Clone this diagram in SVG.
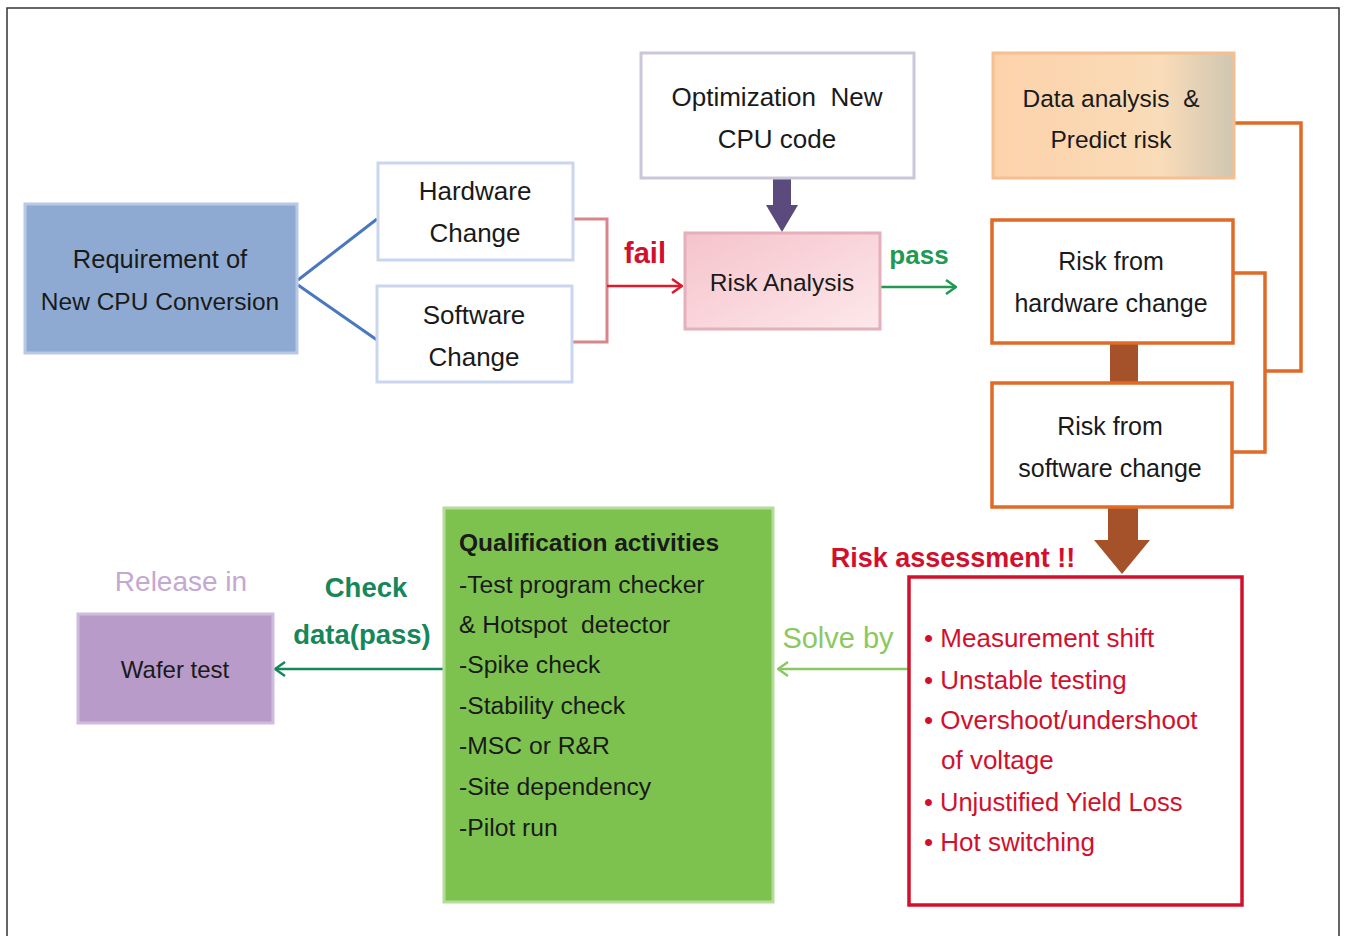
<svg xmlns="http://www.w3.org/2000/svg" width="1346" height="936" viewBox="0 0 1346 936" font-size="24">
<defs>
<linearGradient id="gPink" x1="0" y1="0" x2="1" y2="1"><stop offset="0" stop-color="#f5c3cc"/><stop offset="1" stop-color="#fde8ea"/></linearGradient>
<linearGradient id="gPeach" x1="0" y1="0" x2="1" y2="0"><stop offset="0" stop-color="#fdd2aa"/><stop offset="0.7" stop-color="#f9dcb8"/><stop offset="1" stop-color="#cfc6b2"/></linearGradient>
<marker id="open" viewBox="0 0 12 16" refX="11" refY="8" markerWidth="12" markerHeight="16" markerUnits="userSpaceOnUse" orient="auto"><path d="M1,1 L11,8 L1,15" fill="none" stroke="context-stroke" stroke-width="2.5"/></marker>
</defs>
<style>
text{font-family:"Liberation Sans",Arial,sans-serif;fill:#1a1a1a;white-space:pre}
.c{text-anchor:middle}
.b{font-weight:bold}
.red{fill:#d3102c}
.box{fill:#fff;stroke:#c9d6ee;stroke-width:3}
.or{fill:#fff;stroke:#e06a28;stroke-width:3.5}
.ln{fill:none}
</style>
<rect x="7" y="8" width="1332" height="940" fill="#fff" stroke="#333" stroke-width="1.5"/>

<g id="connectors">
<path class="ln" d="M298,280 L377,219 M298,285 L377,340" stroke="#4a78c0" stroke-width="3"/>
<path class="ln" d="M573,219 L607,219 L607,342 L572,342" stroke="#d9858c" stroke-width="3"/>
<line x1="607" y1="286" x2="682" y2="286" stroke="#e0182e" stroke-width="2.5" marker-end="url(#open)"/>
<path d="M773,178 L791,178 L791,205 L798,205 L782,232 L766,205 L773,205 Z" fill="#5b4a7c"/>
<line x1="880" y1="287" x2="956" y2="287" stroke="#1e9a52" stroke-width="2.5" marker-end="url(#open)"/>
<path class="ln" d="M1234,123 L1301,123 L1301,371 L1266,371" stroke="#e06a28" stroke-width="3.5"/>
<path class="ln" d="M1233,273 L1265,273 L1265,452 L1233,452" stroke="#e06a28" stroke-width="3.5"/>
<rect x="1110" y="343" width="28" height="39" fill="#a5522a"/>
<path d="M1108,507 L1138,507 L1138,540 L1150,540 L1122,574 L1094,540 L1108,540 Z" fill="#a5522a"/>
<line x1="908" y1="669" x2="778" y2="669" stroke="#8cc860" stroke-width="2.5" marker-end="url(#open)"/>
<line x1="443" y1="669" x2="275" y2="669" stroke="#17865a" stroke-width="2.5" marker-end="url(#open)"/>
<text x="645" y="263" class="c b red" font-size="29">fail</text>
<text x="919" y="264" class="c b" font-size="26" style="fill:#1e9a52">pass</text>
<text x="953" y="567" class="c b red" font-size="27">Risk assessment !!</text>
<text x="838" y="648" class="c" font-size="29" style="fill:#8cc860">Solve by</text>
<text x="366" y="597" class="c b" font-size="27.5" style="fill:#17865a">Check</text>
<text x="362" y="644" class="c b" font-size="27.5" style="fill:#17865a">data(pass)</text>
<text x="181" y="591" class="c" font-size="28" style="fill:#c3a8d4">Release in</text>
</g>

<g id="requirement">
<rect x="25" y="204" width="272" height="149" fill="#8eaad2" stroke="#b9c9e5" stroke-width="3"/>
<text x="160" y="268" class="c" font-size="25.5">Requirement of</text>
<text x="160" y="310" class="c" font-size="24.5">New CPU Conversion</text>
</g>
<g id="hardware">
<rect x="378" y="163" width="195" height="97" class="box"/>
<text x="475" y="200" class="c" font-size="26">Hardware</text>
<text x="475" y="242" class="c" font-size="26">Change</text>
</g>
<g id="software">
<rect x="377" y="286" width="195" height="96" class="box"/>
<text x="474" y="324" class="c" font-size="26">Software</text>
<text x="474" y="366" class="c" font-size="26">Change</text>
</g>
<g id="optimization">
<rect x="641" y="53" width="273" height="125" fill="#fff" stroke="#cbc6da" stroke-width="3"/>
<text x="777" y="106" class="c" font-size="26">Optimization  New</text>
<text x="777" y="148" class="c" font-size="26">CPU code</text>
</g>
<g id="risk-analysis">
<rect x="685" y="233" width="195" height="96" fill="url(#gPink)" stroke="#e3b0bb" stroke-width="3"/>
<text x="782" y="291" class="c" font-size="24.5">Risk Analysis</text>
</g>
<g id="data-analysis">
<rect x="993" y="53" width="241" height="125" fill="url(#gPeach)" stroke="#f6bf92" stroke-width="3"/>
<text x="1111" y="107" class="c" font-size="24.5">Data analysis  &amp;</text>
<text x="1111" y="148" class="c" font-size="24.5">Predict risk</text>
</g>
<g id="risk-hw">
<rect x="992" y="220" width="241" height="123" class="or"/>
<text x="1111" y="270" class="c" font-size="25">Risk from</text>
<text x="1111" y="312" class="c" font-size="25">hardware change</text>
</g>
<g id="risk-sw">
<rect x="992" y="383" width="240" height="124" class="or"/>
<text x="1110" y="435" class="c" font-size="25">Risk from</text>
<text x="1110" y="477" class="c" font-size="25">software change</text>
</g>
<g id="risk-assessment">
<rect x="909" y="577" width="333" height="328" fill="#fff" stroke="#d3102c" stroke-width="3.5"/>
<text x="924" y="647" class="red" font-size="26">• Measurement shift</text>
<text x="924" y="689" class="red" font-size="26">• Unstable testing</text>
<text x="924" y="729" class="red" font-size="26">• Overshoot/undershoot</text>
<text x="941" y="769" class="red" font-size="26">of voltage</text>
<text x="924" y="811" class="red" font-size="25.5">• Unjustified Yield Loss</text>
<text x="924" y="851" class="red" font-size="26">• Hot switching</text>
</g>
<g id="qualification">
<rect x="444" y="508" width="329" height="394" fill="#7dc24f" stroke="#b5dd9a" stroke-width="3"/>
<text x="459" y="551" class="b" font-size="24.5">Qualification activities</text>
<text x="459" y="593" font-size="24.7">-Test program checker</text>
<text x="459" y="633" font-size="24.7">&amp; Hotspot  detector</text>
<text x="459" y="673" font-size="24.7">-Spike check</text>
<text x="459" y="714" font-size="24.7">-Stability check</text>
<text x="459" y="754" font-size="24.7">-MSC or R&amp;R</text>
<text x="459" y="795" font-size="24.7">-Site dependency</text>
<text x="459" y="836" font-size="24.7">-Pilot run</text>
</g>
<g id="wafer-test">
<rect x="78" y="614" width="195" height="109" fill="#b89bc9" stroke="#cfbcdd" stroke-width="3"/>
<text x="175" y="678" class="c">Wafer test</text>
</g>
</svg>
